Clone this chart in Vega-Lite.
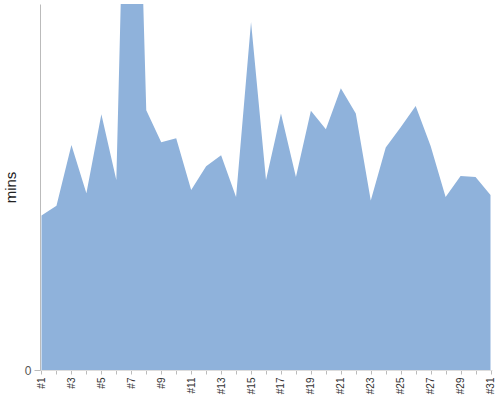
{
  "$schema": "https://vega.github.io/schema/vega-lite/v6.json",
  "width": 452,
  "height": 366,
  "autosize": "none",
  "padding": {"left": 40, "top": 4, "right": 8, "bottom": 30},
  "data": {"values": [
    {"day": "#1", "mins": 42.2},
    {"day": "#2", "mins": 44.9},
    {"day": "#3", "mins": 61.5},
    {"day": "#4", "mins": 48.3},
    {"day": "#5", "mins": 69.9},
    {"day": "#6", "mins": 51.9},
    {"day": "#7", "mins": 216},
    {"day": "#8", "mins": 71.0},
    {"day": "#9", "mins": 62.2},
    {"day": "#10", "mins": 63.3},
    {"day": "#11", "mins": 49.2},
    {"day": "#12", "mins": 55.7},
    {"day": "#13", "mins": 58.7},
    {"day": "#14", "mins": 47.3},
    {"day": "#15", "mins": 95.1},
    {"day": "#16", "mins": 51.9},
    {"day": "#17", "mins": 70.1},
    {"day": "#18", "mins": 52.7},
    {"day": "#19", "mins": 70.8},
    {"day": "#20", "mins": 65.8},
    {"day": "#21", "mins": 77.0},
    {"day": "#22", "mins": 70.1},
    {"day": "#23", "mins": 46.3},
    {"day": "#24", "mins": 60.8},
    {"day": "#25", "mins": 66.3},
    {"day": "#26", "mins": 72.1},
    {"day": "#27", "mins": 61.2},
    {"day": "#28", "mins": 47.3},
    {"day": "#29", "mins": 53.0},
    {"day": "#30", "mins": 52.7},
    {"day": "#31", "mins": 47.8}
  ]},
  "config": {
    "view": {"stroke": null},
    "font": "Liberation Sans"
  },
  "mark": {"type": "area", "color": "#8FB2DB", "opacity": 1, "clip": true},
  "encoding": {
    "x": {
      "field": "day", "type": "ordinal", "sort": null,
      "scale": {"type": "point", "padding": 0.1},
      "axis": {
        "title": null,
        "labelAngle": 270,
        "labelAlign": "right",
        "labelBaseline": "middle",
        "labelFontSize": 10,
        "labelColor": "#333",
        "labelPadding": 3,
        "labelOverlap": false,
        "labelExpr": "toNumber(slice(datum.label, 1)) % 2 == 1 ? datum.label : ''",
        "tickSize": 4,
        "tickColor": "#bbb",
        "domainColor": "#ddd",
        "grid": false
      }
    },
    "y": {
      "field": "mins", "type": "quantitative",
      "scale": {"domain": [0, 100], "nice": false},
      "axis": {
        "title": "mins",
        "titleFontSize": 15,
        "titleFontWeight": "normal",
        "titleColor": "#222",
        "titlePadding": 6,
        "values": [0],
        "labelFontSize": 12,
        "labelColor": "#555",
        "labelPadding": 3,
        "tickSize": 6,
        "tickColor": "#bbb",
        "domainColor": "#bbb",
        "grid": false
      }
    }
  }
}
